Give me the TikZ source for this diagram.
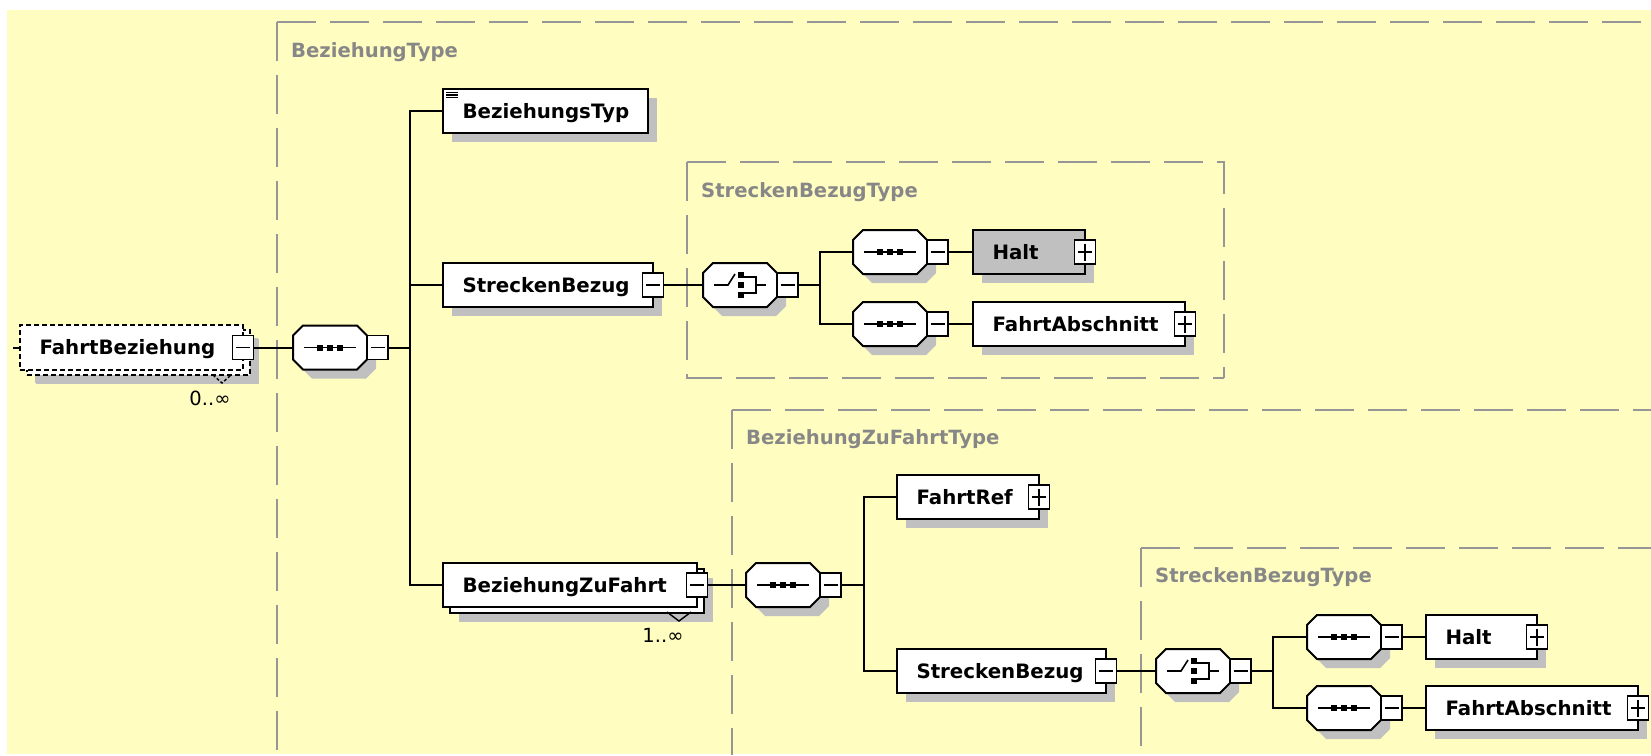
\documentclass[tikz,border=0pt]{standalone}
\usepackage{fontspec}
\setmainfont{DejaVu Sans}
\usetikzlibrary{shadows}
\definecolor{bgyellow}{RGB}{255,253,192}
\definecolor{shadowc}{RGB}{192,192,192}
\definecolor{typeline}{RGB}{150,150,150}
\definecolor{typelabel}{RGB}{135,135,135}
\definecolor{haltgray}{RGB}{192,192,192}

\newcommand\octnode[3]{%
  \fill[shadowc] (#2+9,#3+9) ++(-27,-22) -- ++(54,0) -- ++(10,10) -- ++(0,24) -- ++(-10,10) -- ++(-54,0) -- ++(-10,-10) -- ++(0,-24) -- cycle;
  \filldraw[fill=white,draw=black,line width=2pt,line join=miter] (#2,#3) ++(-27,-22) -- ++(54,0) -- ++(10,10) -- ++(0,24) -- ++(-10,10) -- ++(-54,0) -- ++(-10,-10) -- ++(0,-24) -- cycle;
  \node[octbox] (#1) at (#2,#3) {};
}
\newcommand\seqicon[1]{%
  \begin{scope}[shift={(#1.center)}]
    \draw[line width=1.6pt] (-26,0) -- (26,0);
    \foreach \k in {-10,0,10} \fill (\k-3,-3) rectangle ++(6,6);
  \end{scope}}
\newcommand\choiceicon[1]{%
  \begin{scope}[shift={(#1.center)}, line width=1.6pt]
    \draw (-26,0) -- (-12,0) -- (-5,-11);
    \foreach \k in {-10,0,10} \fill (-2,\k-3) rectangle ++(6,6);
    \draw[line join=miter] (4,-8) -- (16,-8) -- (16,8) -- (4,8);
    \draw (16,0) -- (26,0);
  \end{scope}}

\begin{document}
\begin{tikzpicture}[x=1pt,y=-1pt,
  elemns/.style={rectangle, draw=black, line width=2pt, fill=white, minimum height=44pt,
    inner xsep=19.5pt, inner ysep=0pt, outer sep=0pt, anchor=north west,
    font=\fontsize{19.8}{22}\selectfont\bfseries, text height=14.4pt, text depth=0pt},
  elem/.style={elemns, drop shadow={shadow xshift=9pt, shadow yshift=-9pt, opacity=1, fill=shadowc, draw=none}},
  octbox/.style={rectangle, minimum width=74pt, minimum height=44pt, inner sep=0pt, outer sep=0pt, draw=none},
  pm/.style={rectangle, draw=black, line width=1.6pt, fill=white, minimum width=21pt, minimum height=24pt, inner sep=0pt, outer sep=0pt},
  minus/.style={pm, path picture={\draw[black, line width=1.6pt] ([xshift=3.5pt]path picture bounding box.west) -- ([xshift=-3.5pt]path picture bounding box.east);}},
  plus/.style={pm, path picture={\draw[black, line width=1.6pt] ([xshift=3.5pt]path picture bounding box.west) -- ([xshift=-3.5pt]path picture bounding box.east) ([yshift=-3.5pt]path picture bounding box.north) -- ([yshift=3.5pt]path picture bounding box.south);}},
  conn/.style={draw=black, line width=2pt, line join=miter},
  typeframe/.style={draw=typeline, line width=2pt, dash pattern=on 39pt off 14pt},
  tlabel/.style={anchor=west, inner sep=0pt, text=typelabel, font=\fontsize{19.6}{22}\selectfont\bfseries, text height=14.2pt, text depth=0pt},
  mult/.style={inner sep=0pt, font=\fontsize{19.5}{21}\selectfont}
]
\useasboundingbox (0,0) rectangle (1651,755);
\fill[white] (0,0) rectangle (1651,755);
\fill[bgyellow] (7,10) rectangle (1651,754);

% type frames
\draw[typeframe] (277,22) -- (1651,22);
\draw[typeframe] (277,22) -- (277,755);
\draw[typeframe] (687,162) -- (1224,162) -- (1224,378);
\draw[typeframe] (687,162) -- (687,378) -- (1224,378);
\draw[typeframe] (732,410) -- (1651,410);
\draw[typeframe] (732,410) -- (732,755);
\draw[typeframe] (1141,548) -- (1651,548);
\draw[typeframe] (1141,548) -- (1141,755);

\node[tlabel] (lbt) at (291,50) {BeziehungType};
\node[tlabel] (lsb1) at (701,190) {StreckenBezugType};
\node[tlabel] (lbzf) at (746,437) {BeziehungZuFahrtType};
\node[tlabel] (lsb2) at (1155,575) {StreckenBezugType};

% FahrtBeziehung (optional, unbounded)
\node[elem, dash pattern=on 5pt off 3pt, minimum width=223pt, minimum height=45pt, inner xsep=0pt, drop shadow={shadow xshift=8pt, shadow yshift=-8pt, opacity=1, fill=shadowc, draw=none}] (fbb) at (27,330) {};
\node[elemns, dash pattern=on 5pt off 3pt, minimum height=45pt] (fb) at (20,325) {\makebox[184pt][l]{FahrtBeziehung}};
\node[minus] (fbm) at (fb.east) {};
\coordinate (fbin) at (13,347.5);
\draw[line width=1.4pt, dash pattern=on 3pt off 2pt] (213,375) -- (222,383) -- (231,375);
\node[mult] (fbmult) at (210,398) {0..∞};

% main sequence
\octnode{seq0}{330}{347.5}
\seqicon{seq0}
\node[minus, anchor=west] (seq0m) at (seq0.east) {};
\coordinate (j1) at (410,347.5);

% BeziehungType children
\node[elem] (bt) at (443,89) {\makebox[166pt][l]{BeziehungsTyp}};
\draw[line width=1.1pt] (446,92.5) -- ++(12,0) (446,95) -- ++(12,0) (446,97.5) -- ++(12,0);
\node[elem] (sb1) at (443,263) {\makebox[171pt][l]{StreckenBezug}};
\node[minus] (sb1m) at (sb1.east) {};
\node[elem, minimum width=254pt, inner xsep=0pt] (bzfb) at (450,569) {};
\node[elemns] (bzf) at (443,563) {\makebox[215pt][l]{BeziehungZuFahrt}};
\node[minus] (bzfm) at (bzf.east) {};
\draw[line width=1.4pt] (667,612) -- (679,621) -- (691,612);
\node[mult] (bzfmult) at (663,635) {1..∞};

% upper StreckenBezugType
\octnode{ch1}{740}{285}
\choiceicon{ch1}
\node[minus, anchor=west] (ch1m) at (ch1.east) {};
\coordinate (j2) at (820,285);
\octnode{s1}{890}{252}
\seqicon{s1}
\node[minus, anchor=west] (s1m) at (s1.east) {};
\octnode{s2}{890}{324}
\seqicon{s2}
\node[minus, anchor=west] (s2m) at (s2.east) {};
\node[elem, fill=haltgray] (halt1) at (973,230) {\makebox[73pt][l]{Halt}};
\node[plus] (halt1p) at (halt1.east) {};
\node[elem] (fa1) at (973,302) {\makebox[173pt][l]{FahrtAbschnitt}};
\node[plus] (fa1p) at (fa1.east) {};

% BeziehungZuFahrtType
\octnode{s3}{783}{585}
\seqicon{s3}
\node[minus, anchor=west] (s3m) at (s3.east) {};
\coordinate (j3) at (864,585);
\node[elem] (fr) at (897,475) {\makebox[103pt][l]{FahrtRef}};
\node[plus] (frp) at (fr.east) {};
\node[elem] (sb2) at (897,649) {\makebox[170pt][l]{StreckenBezug}};
\node[minus] (sb2m) at (sb2.east) {};

% lower StreckenBezugType
\octnode{ch2}{1193}{671}
\choiceicon{ch2}
\node[minus, anchor=west] (ch2m) at (ch2.east) {};
\coordinate (j4) at (1273,671);
\octnode{s4}{1344}{637}
\seqicon{s4}
\node[minus, anchor=west] (s4m) at (s4.east) {};
\octnode{s5}{1344}{708}
\seqicon{s5}
\node[minus, anchor=west] (s5m) at (s5.east) {};
\node[elem] (halt2) at (1426,615) {\makebox[72pt][l]{Halt}};
\node[plus] (halt2p) at (halt2.east) {};
\node[elem] (fa2) at (1426,686) {\makebox[173pt][l]{FahrtAbschnitt}};
\node[plus] (fa2p) at (fa2.east) {};

% connectors
\draw[conn] (fbin) -- (fb.west);
\draw[conn] (fbm.east) -- (seq0.west);
\draw[conn] (seq0m.east) -- (j1);
\draw[conn] (j1) |- (bt.west);
\draw[conn] (j1) |- (sb1.west);
\draw[conn] (j1) |- (bzf.west);
\draw[conn] (sb1m.east) -- (ch1.west);
\draw[conn] (ch1m.east) -- (j2);
\draw[conn] (j2) |- (s1.west);
\draw[conn] (j2) |- (s2.west);
\draw[conn] (s1m.east) -- (halt1.west);
\draw[conn] (s2m.east) -- (fa1.west);
\draw[conn] (bzfm.east) -- (s3.west);
\draw[conn] (s3m.east) -- (j3);
\draw[conn] (j3) |- (fr.west);
\draw[conn] (j3) |- (sb2.west);
\draw[conn] (sb2m.east) -- (ch2.west);
\draw[conn] (ch2m.east) -- (j4);
\draw[conn] (j4) |- (s4.west);
\draw[conn] (j4) |- (s5.west);
\draw[conn] (s4m.east) -- (halt2.west);
\draw[conn] (s5m.east) -- (fa2.west);
\end{tikzpicture}
\end{document}
